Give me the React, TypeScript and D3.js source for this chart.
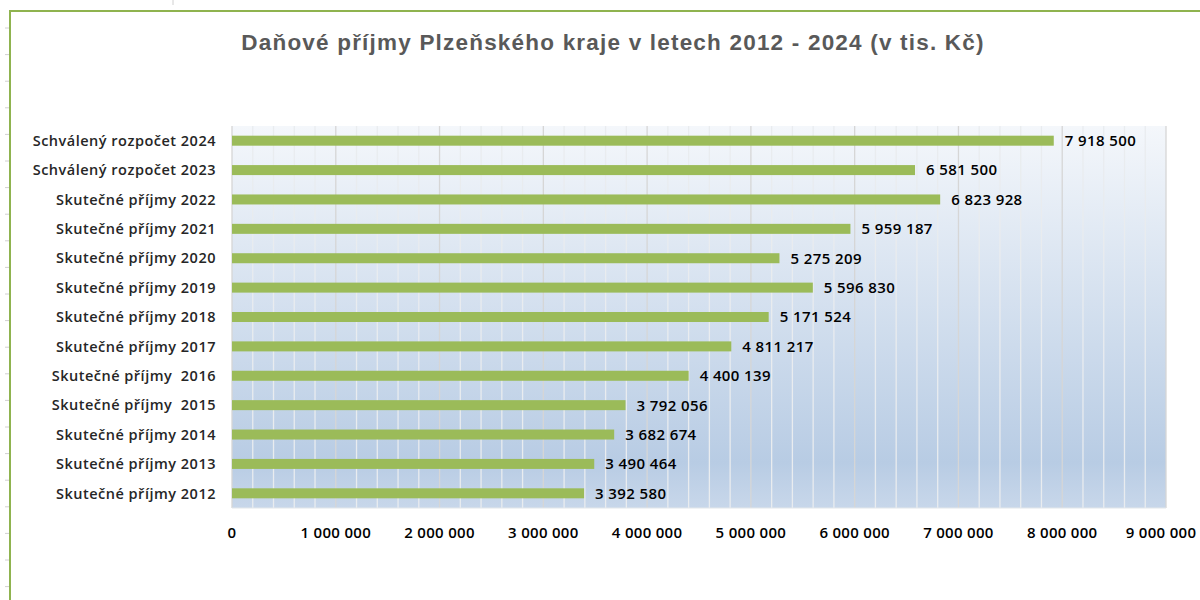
import React from "react";
import * as d3 from "d3";

const categories = [
  "Schválený rozpočet 2024",
  "Schválený rozpočet 2023",
  "Skutečné příjmy 2022",
  "Skutečné příjmy 2021",
  "Skutečné příjmy 2020",
  "Skutečné příjmy 2019",
  "Skutečné příjmy 2018",
  "Skutečné příjmy 2017",
  "Skutečné příjmy  2016",
  "Skutečné příjmy  2015",
  "Skutečné příjmy 2014",
  "Skutečné příjmy 2013",
  "Skutečné příjmy 2012",
];
const values = [
  7918500, 6581500, 6823928, 5959187, 5275209, 5596830, 5171524, 4811217,
  4400139, 3792056, 3682674, 3490464, 3392580,
];
const xTicks = [0, 1000000, 2000000, 3000000, 4000000, 5000000, 6000000, 7000000, 8000000, 9000000];
const title = "Daňové příjmy Plzeňského kraje v letech 2012 - 2024 (v tis. Kč)";

const fmt = (v: number) =>
  String(v).replace(/\B(?=(\d{3})+(?!\d))/g, " ");

export default function App() {
  const W = 1200, H = 600;
  const left = 232, right = 1166, top = 126, bottom = 508;
  const x = d3.scaleLinear().domain([0, 9000000]).range([left, right]);
  const y = d3.scaleBand<string>().domain(categories).range([top, bottom]).paddingInner(0).paddingOuter(0);
  const barH = 10;
  const minor = d3.range(0, 9000001, 200000).filter((v) => v % 1000000 !== 0);
  const labelFont = "'Open Sans', 'DejaVu Sans', sans-serif";
  const sideTicks = d3.range(28, 600, 26.6);

  return (
    <svg width={W} height={H} style={{ position: "absolute", left: 0, top: 0, display: "block" }}>
      <defs>
        <linearGradient id="bg" x1="0" y1="0" x2="0" y2="1">
          <stop offset="0" stopColor="#f4f7fb" />
          <stop offset="0.88" stopColor="#b8cce4" />
          <stop offset="1" stopColor="#c8d7ea" />
        </linearGradient>
      </defs>
      <rect x={0} y={0} width={W} height={H} fill="#ffffff" />
      {sideTicks.map((t, i) => (
        <line key={i} x1={5} x2={9} y1={t} y2={t} stroke="#d0d0d0" strokeWidth={1} />
      ))}
      <line x1={173} x2={173} y1={0} y2={5} stroke="#d0d0d0" />
      <path d={`M10,${H} L10,11 L${W},11`} fill="none" stroke="#8fb34f" strokeWidth={2} />

      <text
        x={613}
        y={50}
        textAnchor="middle"
        fontFamily="'Liberation Sans', Arial, sans-serif"
        fontWeight="bold"
        fontSize={22.5}
        letterSpacing={1.2}
        fill="#595959"
      >
        {title}
      </text>

      <rect x={left} y={top} width={right - left} height={bottom - top} fill="url(#bg)" />
      {minor.map((v) => (
        <line key={"m" + v} x1={x(v)} x2={x(v)} y1={top} y2={bottom} stroke="#e9ecef" strokeWidth={1.3} />
      ))}
      {xTicks.map((v) => (
        <line key={"g" + v} x1={x(v)} x2={x(v)} y1={top} y2={bottom} stroke="#d6d6d6" strokeWidth={1.3} />
      ))}
      <line x1={left} x2={right} y1={bottom} y2={bottom} stroke="#e2e6ea" strokeWidth={1} />

      {categories.map((c, i) => {
        const cy = (y(c) as number) + y.bandwidth() / 2;
        return (
          <g key={c}>
            <rect x={x(0)} y={cy - barH / 2} width={x(values[i]) - x(0)} height={barH} fill="#9bbb59" />
            <text
              x={x(values[i]) + 11}
              y={cy}
              dy="0.36em"
              fontFamily={labelFont}
              fontWeight={600}
              fontSize={15}
              letterSpacing={0.4}
              fill="#000000"
            >
              {fmt(values[i])}
            </text>
            <text
              x={216}
              y={cy}
              dy="0.36em"
              textAnchor="end"
              fontFamily={labelFont}
              fontWeight={600}
              fontSize={14.5}
              letterSpacing={0.5}
              fill="#262626"
              style={{ whiteSpace: "pre" }}
            >
              {c}
            </text>
          </g>
        );
      })}

      {xTicks.map((v) => (
        <text
          key={"t" + v}
          x={Math.min(x(v), W - 39)}
          y={533}
          dy="0.36em"
          textAnchor="middle"
          fontFamily={labelFont}
          fontWeight={600}
          fontSize={15}
          letterSpacing={0.3}
          fill="#000000"
        >
          {fmt(v)}
        </text>
      ))}
    </svg>
  );
}
